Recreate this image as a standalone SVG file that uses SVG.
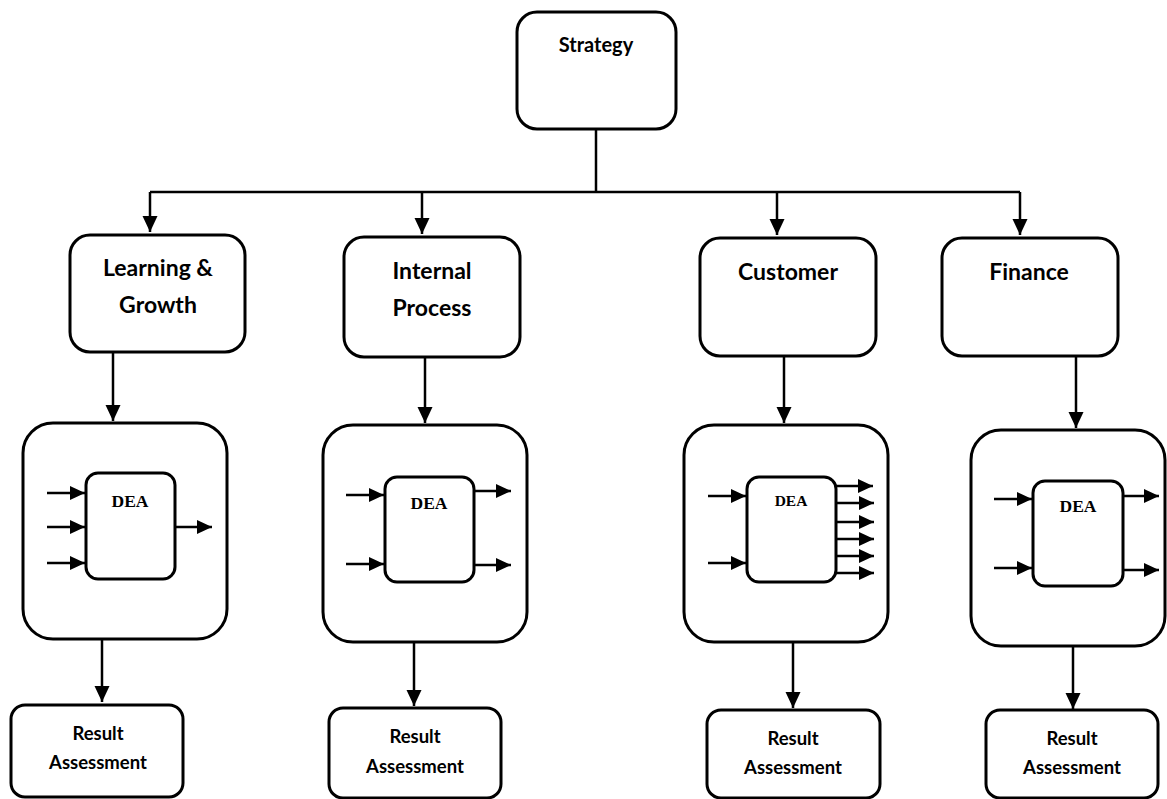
<svg xmlns="http://www.w3.org/2000/svg" width="1167" height="799" viewBox="0 0 1167 799">
  <defs>
    <style>
      .box { fill: #ffffff; stroke: #000000; stroke-width: 3; }
      .wire { fill: none; stroke: #000000; stroke-width: 2.5; }
      .lbl { font-family: Lato, "Open Sans", "Liberation Sans", sans-serif; font-weight: bold; fill: #000000; text-anchor: middle; }
      .big { font-size: 23px; }
      .mid { font-size: 20px; }
      .small { font-size: 18.5px; }
      .dea { font-family: "Liberation Serif", "DejaVu Serif", serif; font-weight: bold; font-size: 17.5px; fill: #000000; text-anchor: middle; }
    </style>
    <marker id="head" markerUnits="userSpaceOnUse" markerWidth="16" markerHeight="16" refX="16" refY="8" orient="auto">
      <path d="M0,0.5 L16,8 L0,15.5 z" fill="#000000"/>
    </marker>
    <marker id="tick" markerUnits="userSpaceOnUse" markerWidth="15" markerHeight="15" refX="15" refY="7.5" orient="auto">
      <path d="M0,0.5 L15,7.5 L0,14.5 z" fill="#000000"/>
    </marker>
  </defs>

  <!-- connectors -->
  <g id="connectors">
    <!-- strategy fan-out -->
    <path class="wire" d="M596,130 V192"/>
    <path class="wire" d="M150,192 H1020"/>
    <path class="wire" d="M150,192 V232" marker-end="url(#head)"/>
    <path class="wire" d="M422,192 V234" marker-end="url(#head)"/>
    <path class="wire" d="M777,192 V235" marker-end="url(#head)"/>
    <path class="wire" d="M1020,192 V235" marker-end="url(#head)"/>
    <!-- perspective to DEA -->
    <path class="wire" d="M113,352 V421" marker-end="url(#head)"/>
    <path class="wire" d="M425,357 V423" marker-end="url(#head)"/>
    <path class="wire" d="M784,356 V423" marker-end="url(#head)"/>
    <path class="wire" d="M1076,356 V428" marker-end="url(#head)"/>
    <!-- DEA to result -->
    <path class="wire" d="M102,640 V702" marker-end="url(#head)"/>
    <path class="wire" d="M414,643 V706" marker-end="url(#head)"/>
    <path class="wire" d="M793,643 V708" marker-end="url(#head)"/>
    <path class="wire" d="M1073,647 V709" marker-end="url(#head)"/>
  </g>

  <g id="strategy">
    <rect class="box" x="517" y="12" width="159" height="117" rx="20"/>
    <text class="lbl mid" x="596" y="52">Strategy</text>
  </g>

  <g id="learning-growth">
    <rect class="box" x="70" y="235" width="175" height="117" rx="20"/>
    <text class="lbl big" x="158" y="276">Learning &amp;</text>
    <text class="lbl big" x="158" y="313">Growth</text>
  </g>

  <g id="internal-process">
    <rect class="box" x="344" y="237" width="176" height="120" rx="20"/>
    <text class="lbl big" x="432" y="279">Internal</text>
    <text class="lbl big" x="432" y="316">Process</text>
  </g>

  <g id="customer">
    <rect class="box" x="700" y="238" width="176" height="118" rx="20"/>
    <text class="lbl big" x="788" y="280">Customer</text>
  </g>

  <g id="finance">
    <rect class="box" x="942" y="238" width="176" height="118" rx="20"/>
    <text class="lbl big" x="1029" y="280">Finance</text>
  </g>

  <!-- DEA blocks -->
  <g id="dea-learning">
    <rect class="box" x="23" y="423" width="204" height="216" rx="30"/>
    <rect class="box" x="86" y="473" width="89" height="106" rx="12"/>
    <text class="dea" x="130" y="507">DEA</text>
    <path class="wire" d="M47,493 H85" marker-end="url(#tick)"/>
    <path class="wire" d="M47,527 H85" marker-end="url(#tick)"/>
    <path class="wire" d="M47,563 H85" marker-end="url(#tick)"/>
    <path class="wire" d="M175,527 H212" marker-end="url(#tick)"/>
  </g>

  <g id="dea-internal">
    <rect class="box" x="323" y="425" width="204" height="217" rx="30"/>
    <rect class="box" x="385" y="477" width="89" height="105" rx="12"/>
    <text class="dea" x="429" y="509">DEA</text>
    <path class="wire" d="M346,495 H384" marker-end="url(#tick)"/>
    <path class="wire" d="M346,564 H384" marker-end="url(#tick)"/>
    <path class="wire" d="M474,491 H511" marker-end="url(#tick)"/>
    <path class="wire" d="M474,565 H511" marker-end="url(#tick)"/>
  </g>

  <g id="dea-customer">
    <rect class="box" x="684" y="425" width="204" height="217" rx="30"/>
    <rect class="box" x="747" y="477" width="89" height="105" rx="12"/>
    <text class="dea" x="791" y="506" style="font-size:15.5px">DEA</text>
    <path class="wire" d="M708,496 H746" marker-end="url(#tick)"/>
    <path class="wire" d="M708,563 H746" marker-end="url(#tick)"/>
    <path class="wire" d="M836,486 H873" marker-end="url(#tick)"/>
    <path class="wire" d="M836,503 H874" marker-end="url(#tick)"/>
    <path class="wire" d="M836,522 H874" marker-end="url(#tick)"/>
    <path class="wire" d="M836,539 H874" marker-end="url(#tick)"/>
    <path class="wire" d="M836,556 H874" marker-end="url(#tick)"/>
    <path class="wire" d="M836,573 H874" marker-end="url(#tick)"/>
  </g>

  <g id="dea-finance">
    <rect class="box" x="971" y="430" width="194" height="216" rx="30"/>
    <rect class="box" x="1033" y="481" width="90" height="105" rx="12"/>
    <text class="dea" x="1078" y="512">DEA</text>
    <path class="wire" d="M994,499 H1032" marker-end="url(#tick)"/>
    <path class="wire" d="M994,568 H1032" marker-end="url(#tick)"/>
    <path class="wire" d="M1123,496 H1159" marker-end="url(#tick)"/>
    <path class="wire" d="M1123,570 H1159" marker-end="url(#tick)"/>
  </g>

  <!-- result assessment boxes -->
  <g id="result-learning">
    <rect class="box" x="11" y="705" width="172" height="92" rx="14"/>
    <text class="lbl small" x="98" y="740">Result</text>
    <text class="lbl small" x="98" y="769">Assessment</text>
  </g>

  <g id="result-internal">
    <rect class="box" x="329" y="708" width="172" height="90" rx="14"/>
    <text class="lbl small" x="415" y="743">Result</text>
    <text class="lbl small" x="415" y="773">Assessment</text>
  </g>

  <g id="result-customer">
    <rect class="box" x="707" y="710" width="173" height="88" rx="14"/>
    <text class="lbl small" x="793" y="745">Result</text>
    <text class="lbl small" x="793" y="774">Assessment</text>
  </g>

  <g id="result-finance">
    <rect class="box" x="986" y="710" width="172" height="88" rx="14"/>
    <text class="lbl small" x="1072" y="745">Result</text>
    <text class="lbl small" x="1072" y="774">Assessment</text>
  </g>
</svg>
